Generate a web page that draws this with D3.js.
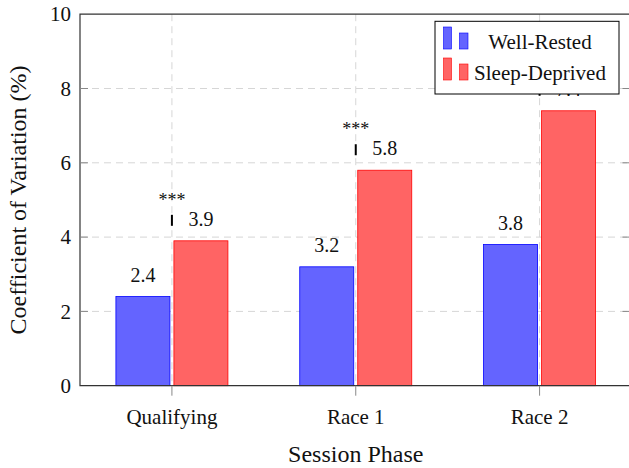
<!DOCTYPE html>
<html><head><meta charset="utf-8">
<script src="https://cdn.jsdelivr.net/npm/d3@7"></script>
<style>body{margin:0;background:#fff}svg{display:block}</style>
</head><body>
<svg id="c" width="629" height="468"></svg>
<script>
const categories = ["Qualifying", "Race 1", "Race 2"];
const seriesNames = ["Well-Rested", "Sleep-Deprived"];
const wellRested = [2.4, 3.2, 3.8];
const sleepDeprived = [3.9, 5.8, 7.4];
const significance = ["***", "***", "***"];
const yTicks = [0, 2, 4, 6, 8, 10];

const fills = ["#6464ff", "#ff6464"];
const strokes = ["#0000ff", "#ff0000"];
const serif = "'Liberation Serif', 'Times New Roman', serif";

const svg = d3.select("#c");
const L = 80, R = 631.5, T = 14.2, B = 385.7;

const x0 = d3.scaleBand().domain(categories).range([L, R]).padding(0);
const x1 = d3.scaleBand().domain(seriesNames).range([-56, 56]).paddingInner(0.069).paddingOuter(0);
const y = d3.scaleLinear().domain([0, 10]).range([B, T]);

// grid
const g = svg.append("g");
g.selectAll(".hg").data(yTicks.filter(t => t > 0 && t < 10)).join("line")
  .attr("x1", L).attr("x2", R).attr("y1", d => y(d)).attr("y2", d => y(d))
  .attr("stroke", "#d6d6d6").attr("stroke-width", 1).attr("stroke-dasharray", "7,5");
g.selectAll(".vg").data(categories).join("line")
  .attr("x1", d => x0(d) + x0.bandwidth()/2).attr("x2", d => x0(d) + x0.bandwidth()/2)
  .attr("y1", T).attr("y2", B)
  .attr("stroke", "#d6d6d6").attr("stroke-width", 1).attr("stroke-dasharray", "7,5");

// bars
const data = categories.map((c, i) => ({c, vals: [wellRested[i], sleepDeprived[i]]}));
const grp = svg.append("g").selectAll("g").data(data).join("g")
  .attr("transform", d => `translate(${x0(d.c) + x0.bandwidth()/2},0)`);
grp.selectAll("rect").data(d => d.vals.map((v, k) => ({v, k}))).join("rect")
  .attr("x", d => x1(seriesNames[d.k])).attr("width", x1.bandwidth())
  .attr("y", d => y(d.v)).attr("height", d => B - y(d.v))
  .attr("fill", d => fills[d.k]).attr("stroke", d => strokes[d.k]).attr("stroke-width", 0.8);
grp.selectAll("text.val").data(d => d.vals.map((v, k) => ({v, k}))).join("text")
  .attr("class", "val")
  .attr("x", d => x1(seriesNames[d.k]) + x1.bandwidth()/2).attr("y", d => y(d.v) - 15)
  .attr("text-anchor", "middle").attr("font-family", serif).attr("font-size", 20)
  .attr("fill", "#111").text(d => d.v.toFixed(1));
// significance markers
grp.append("line")
  .attr("x1", 0).attr("x2", 0)
  .attr("y1", (d) => y(d3.max(d.vals)) - 26).attr("y2", d => y(d3.max(d.vals)) - 15)
  .attr("stroke", "#000").attr("stroke-width", 2);
grp.append("text")
  .attr("x", 0).attr("y", (d, i) => y(d3.max(d.vals)) - 35)
  .attr("text-anchor", "middle").attr("font-family", serif).attr("font-size", 18)
  .attr("fill", "#111").text((d, i) => significance[i]);

// axes frame
const ax = svg.append("g").attr("stroke", "#333").attr("stroke-width", 1.2).attr("fill", "none");
ax.append("path").attr("d", `M${L},${B}V${T}H${R}V${B}Z`);

// y axis ticks
const yAxis = d3.axisLeft(y).tickValues(yTicks).tickSize(0).tickPadding(9).tickFormat(d3.format("d"));
const ya = svg.append("g").attr("transform", `translate(${L},0)`).call(yAxis);
ya.select(".domain").remove();
ya.selectAll("text").attr("font-family", serif).attr("font-size", 21).attr("fill", "#111");
// inner tick marks
svg.append("g").selectAll("line").data(yTicks.filter(t => t > 0 && t < 10)).join("line")
  .attr("x1", L).attr("x2", L + 8).attr("y1", d => y(d)).attr("y2", d => y(d))
  .attr("stroke", "#888").attr("stroke-width", 1);
svg.append("g").selectAll("line").data(yTicks.filter(t => t > 0 && t < 10)).join("line")
  .attr("x1", R - 9).attr("x2", R).attr("y1", d => y(d)).attr("y2", d => y(d))
  .attr("stroke", "#888").attr("stroke-width", 1);

// x axis
const xAxis = d3.axisBottom(x0).tickSize(10).tickPadding(13);
const xa = svg.append("g").attr("transform", `translate(0,${B})`).call(xAxis);
xa.select(".domain").remove();
xa.selectAll("line").attr("stroke", "#888");
xa.selectAll("text").attr("font-family", serif).attr("font-size", 21).attr("fill", "#111");

// axis titles
svg.append("text").attr("x", (L + R)/2).attr("y", 462).attr("text-anchor", "middle")
  .attr("font-family", serif).attr("font-size", 24).attr("fill", "#111").text("Session Phase");
svg.append("text").attr("transform", `translate(26,${(T + B)/2}) rotate(-90)`)
  .attr("text-anchor", "middle").attr("font-family", serif).attr("font-size", 24)
  .attr("fill", "#111").text("Coefficient of Variation (%)");

// legend
const lg = svg.append("g");
lg.append("rect").attr("x", 435).attr("y", 21.3).attr("width", 184).attr("height", 72.7)
  .attr("fill", "#fff").attr("stroke", "#000").attr("stroke-width", 1);
seriesNames.forEach((s, k) => {
  const base = 49 + k * 31;
  lg.append("rect").attr("x", 443.5).attr("y", base - 22).attr("width", 8).attr("height", 22)
    .attr("fill", fills[k]).attr("stroke", strokes[k]).attr("stroke-width", 0.6);
  lg.append("rect").attr("x", 459.5).attr("y", base - 16).attr("width", 8.5).attr("height", 16)
    .attr("fill", fills[k]).attr("stroke", strokes[k]).attr("stroke-width", 0.6);
  lg.append("text").attr("x", 540).attr("y", base - 0.5).attr("text-anchor", "middle")
    .attr("font-family", serif).attr("font-size", 21).attr("fill", "#111").text(s);
});
</script>
</body></html>
